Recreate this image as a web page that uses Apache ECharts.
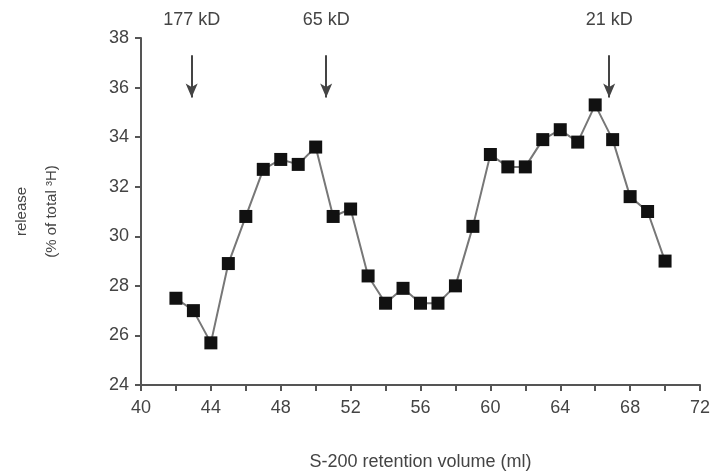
<!DOCTYPE html>
<html>
<head>
<meta charset="utf-8">
<style>
    html, body { margin: 0; padding: 0; background: #fff; }
    #chart { width: 716px; height: 473px; }
</style>
</head>
<body>
<div id="chart"></div>
<script src="https://cdn.jsdelivr.net/npm/echarts@6/dist/echarts.min.js"></script>
<script>
    // retention volume (ml) and release (% of total 3H)
    var volume = [42, 43, 44, 45, 46, 47, 48, 49, 50, 51, 52, 53, 54, 55, 56,
        57, 58, 59, 60, 61, 62, 63, 64, 65, 66, 67, 68, 69, 70];
    var release = [27.5, 27.0, 25.7, 28.9, 30.8, 32.7, 33.1, 32.9, 33.6, 30.8, 31.1, 28.4, 27.3, 27.9, 27.3,
        27.3, 28.0, 30.4, 33.3, 32.8, 32.8, 33.9, 34.3, 33.8, 35.3, 33.9, 31.6, 31.0, 29.0];

    // size markers: label, position on x axis
    var markerLabels = ['177 kD', '65 kD', '21 kD'];
    var markerVolume = [42.9, 50.6, 66.8];

    var font = '"Liberation Sans", Arial, sans-serif';
    var grey = '#555';

    var chart = echarts.init(document.getElementById('chart'));

    var arrows = markerLabels.map(function (lab, i) {
        return [
            {coord: [markerVolume[i], 37.3], label: {formatter: lab}},
            {coord: [markerVolume[i], 35.6]}
        ];
    });

    chart.setOption({
        animation: false,
        grid: {left: 141, right: 16, top: 38, bottom: 88, outerBoundsMode: 'none'},
        xAxis: {
            type: 'value',
            min: 40, max: 72, interval: 4,
            name: 'S-200 retention volume (ml)',
            nameLocation: 'middle',
            nameGap: 68,
            nameTextStyle: {fontFamily: font, fontSize: 18, color: '#444'},
            axisLine: {lineStyle: {color: grey, width: 2}},
            axisTick: {length: 6, lineStyle: {color: grey, width: 2}},
            minorTick: {show: true, splitNumber: 2, length: 6, lineStyle: {color: grey, width: 2}},
            axisLabel: {fontFamily: font, fontSize: 18, color: '#444', margin: 14},
            splitLine: {show: false}
        },
        yAxis: {
            type: 'value',
            min: 24, max: 38, interval: 2,
            name: 'release\n(% of total ³H)',
            nameLocation: 'middle',
            nameGap: 74,
            nameTextStyle: {fontFamily: font, fontSize: 15, color: '#444', lineHeight: 30},
            axisLine: {show: true, lineStyle: {color: grey, width: 2}},
            axisTick: {show: true, length: 6, lineStyle: {color: grey, width: 2}},
            axisLabel: {fontFamily: font, fontSize: 18, color: '#444', margin: 12},
            splitLine: {show: false}
        },
        series: [{
            type: 'line',
            data: volume.map(function (v, i) { return [v, release[i]]; }),
            symbol: 'rect',
            symbolSize: 13,
            itemStyle: {color: '#111'},
            lineStyle: {color: '#777', width: 2},
            clip: false,
            markLine: {
                silent: true,
                symbol: ['none', 'arrow'],
                symbolSize: [9, 14],
                lineStyle: {color: '#444', width: 2, type: 'solid'},
                label: {
                    show: true,
                    position: 'start',
                    distance: 26,
                    fontFamily: font,
                    fontSize: 18,
                    color: '#444'
                },
                data: arrows
            }
        }]
    });
</script>
</body>
</html>
